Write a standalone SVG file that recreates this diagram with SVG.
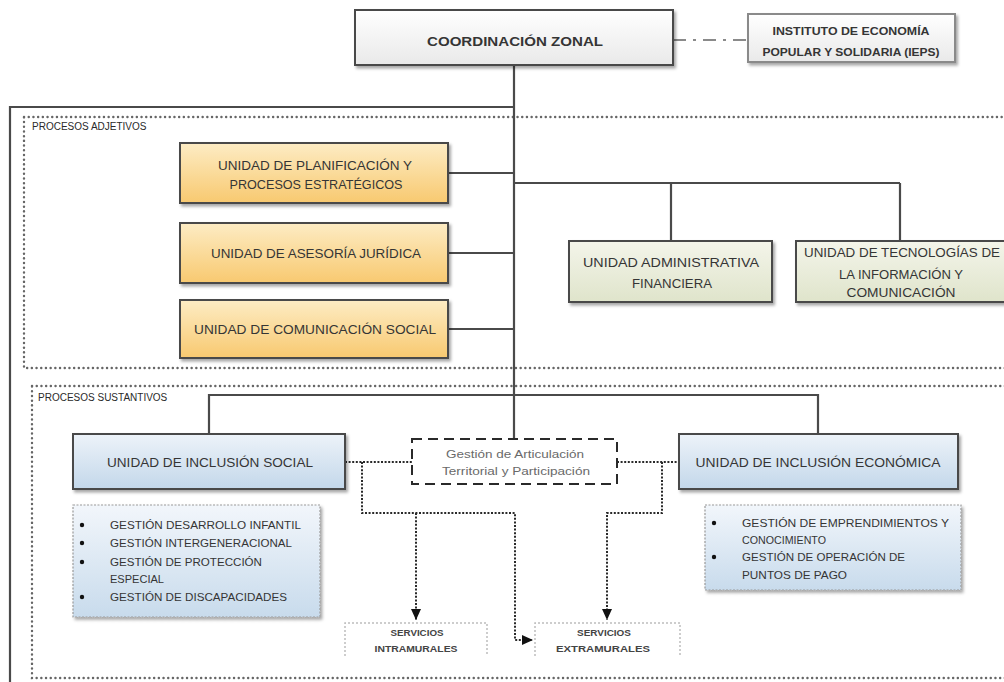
<svg xmlns="http://www.w3.org/2000/svg" width="1004" height="682" viewBox="0 0 1004 682">
<style>
  text { font-family: "Liberation Sans", Arial, sans-serif; fill: #353535; }
  .box { stroke: #4a4a4a; stroke-width: 2; }
  .lbl { font-size: 13.5px; text-anchor: middle; }
  .bold { font-weight: bold; }
  .sec { font-size: 10px; fill: #2a2a2a; }
  .li { font-size: 11px; }
  .srv { font-size: 9px; text-anchor: middle; font-weight: bold; fill: #444; }
  .solid { fill: none; stroke: #4a4a4a; stroke-width: 2.2; }
  .dots { fill: none; stroke: #2a2a2a; stroke-width: 2; stroke-dasharray: 2 1.6; }
  .frame { fill: none; stroke: #666; stroke-width: 2.4; stroke-dasharray: 0.1 4.6; stroke-linecap: round; }
  .srvbox { fill: none; stroke: #bdbdbd; stroke-width: 1.5; stroke-dasharray: 2 2; }
</style>
<defs>
  <linearGradient id="gW" x1="0" y1="0" x2="0" y2="1"><stop offset="0" stop-color="#ffffff"/><stop offset="1" stop-color="#e9e9e9"/></linearGradient>
  <linearGradient id="gO" x1="0" y1="0" x2="0" y2="1"><stop offset="0" stop-color="#fdecc4"/><stop offset="1" stop-color="#f8c970"/></linearGradient>
  <linearGradient id="gG" x1="0" y1="0" x2="0" y2="1"><stop offset="0" stop-color="#f4f5ea"/><stop offset="1" stop-color="#dfe4cb"/></linearGradient>
  <linearGradient id="gB" x1="0" y1="0" x2="0" y2="1"><stop offset="0" stop-color="#edf3f9"/><stop offset="1" stop-color="#c3d7ea"/></linearGradient>
  <linearGradient id="gL" x1="0" y1="0" x2="0" y2="1"><stop offset="0" stop-color="#f2f6fb"/><stop offset="1" stop-color="#c8dbec"/></linearGradient>
  <filter id="sh" x="-10%" y="-10%" width="125%" height="135%">
    <feDropShadow dx="2" dy="2.5" stdDeviation="1.5" flood-color="#000" flood-opacity="0.35"/>
  </filter>
  <marker id="arr" markerUnits="userSpaceOnUse" markerWidth="12" markerHeight="12" viewBox="0 0 12 12" refX="11" refY="6" orient="auto">
    <path d="M0 1 L11 6 L0 11 Z" fill="#111"/>
  </marker>
</defs>
<rect width="1004" height="682" fill="#ffffff"/>

<g id="frames">
  <rect class="frame" x="24" y="117" width="990" height="251"/>
  <text class="sec" x="32" y="130">PROCESOS ADJETIVOS</text>
  <rect class="frame" x="32" y="386" width="982" height="292"/>
  <text class="sec" x="38" y="401">PROCESOS SUSTANTIVOS</text>
</g>

<g id="connectors">
  <path class="solid" d="M10 682 V107 H514"/>
  <path class="solid" d="M514 65 V439"/>
  <path d="M673 40 H748" fill="none" stroke="#8a8a8a" stroke-width="2" stroke-dasharray="13 7 3 7"/>
  <path class="solid" d="M448 173 H514 M448 253 H514 M448 329 H514"/>
  <path class="solid" d="M514 183 H900 M671 183 V241 M900 183 V241"/>
  <path class="solid" d="M209 434 V395 H818 V434"/>
  <path class="dots" d="M345 462 H412 M617 462 H679"/>
  <path class="dots" d="M362 462 V513 H515 V640 H533" marker-end="url(#arr)"/>
  <path class="dots" d="M416 513 V620" marker-end="url(#arr)"/>
  <path class="dots" d="M662 462 V513 H607 V620" marker-end="url(#arr)"/>
</g>

<g id="coordinacion">
  <rect class="box" x="355" y="10" width="318" height="55" fill="url(#gW)" filter="url(#sh)"/>
  <text class="lbl bold" x="515" y="46" font-size="13.5" textLength="176" lengthAdjust="spacingAndGlyphs">COORDINACIÓN ZONAL</text>
</g>

<g id="ieps">
  <rect x="748" y="14" width="207" height="48" fill="url(#gW)" stroke="#8a8a8a" stroke-width="2" filter="url(#sh)"/>
  <text class="bold" x="851" y="35" font-size="11" text-anchor="middle" textLength="157" lengthAdjust="spacingAndGlyphs">INSTITUTO DE ECONOMÍA</text>
  <text class="bold" x="851" y="56" font-size="11" text-anchor="middle" textLength="177" lengthAdjust="spacingAndGlyphs">POPULAR Y SOLIDARIA (IEPS)</text>
</g>

<g id="planificacion">
  <rect class="box" x="180" y="143" width="268" height="60" fill="url(#gO)" filter="url(#sh)"/>
  <text class="lbl" x="315" y="170" textLength="194" lengthAdjust="spacingAndGlyphs">UNIDAD DE PLANIFICACIÓN Y</text>
  <text class="lbl" x="316" y="189" textLength="173" lengthAdjust="spacingAndGlyphs">PROCESOS ESTRATÉGICOS</text>
</g>

<g id="juridica">
  <rect class="box" x="180" y="223" width="268" height="60" fill="url(#gO)" filter="url(#sh)"/>
  <text class="lbl" x="316" y="258" textLength="210" lengthAdjust="spacingAndGlyphs">UNIDAD DE ASESORÍA JURÍDICA</text>
</g>

<g id="comunicacion">
  <rect class="box" x="180" y="300" width="268" height="58" fill="url(#gO)" filter="url(#sh)"/>
  <text class="lbl" x="315" y="334" textLength="242" lengthAdjust="spacingAndGlyphs">UNIDAD DE COMUNICACIÓN SOCIAL</text>
</g>

<g id="administrativa">
  <rect class="box" x="569" y="241" width="203" height="61" fill="url(#gG)" filter="url(#sh)"/>
  <text class="lbl" x="671" y="267" textLength="176" lengthAdjust="spacingAndGlyphs">UNIDAD ADMINISTRATIVA</text>
  <text class="lbl" x="672" y="288" textLength="80" lengthAdjust="spacingAndGlyphs">FINANCIERA</text>
</g>

<g id="tecnologias">
  <rect class="box" x="796" y="241" width="214" height="61" fill="url(#gG)" filter="url(#sh)"/>
  <text class="lbl" x="902" y="257" textLength="196" lengthAdjust="spacingAndGlyphs">UNIDAD DE TECNOLOGÍAS DE</text>
  <text class="lbl" x="901" y="279" textLength="124" lengthAdjust="spacingAndGlyphs">LA INFORMACIÓN Y</text>
  <text class="lbl" x="901" y="297" textLength="109" lengthAdjust="spacingAndGlyphs">COMUNICACIÓN</text>
</g>

<g id="inclusion-social">
  <rect class="box" x="73" y="434" width="272" height="55" fill="url(#gB)" filter="url(#sh)"/>
  <text class="lbl" x="210" y="467" textLength="206" lengthAdjust="spacingAndGlyphs">UNIDAD DE INCLUSIÓN SOCIAL</text>
</g>

<g id="articulacion">
  <rect x="412" y="439" width="205" height="45" fill="#ffffff" stroke="#2a2a2a" stroke-width="2" stroke-dasharray="10 6"/>
  <text x="515" y="458" font-size="11" text-anchor="middle" style="fill:#6a6a6a" textLength="138" lengthAdjust="spacingAndGlyphs">Gestión de Articulación</text>
  <text x="516" y="475" font-size="11" text-anchor="middle" style="fill:#6a6a6a" textLength="148" lengthAdjust="spacingAndGlyphs">Territorial y Participación</text>
</g>

<g id="inclusion-economica">
  <rect class="box" x="679" y="434" width="279" height="55" fill="url(#gB)" filter="url(#sh)"/>
  <text class="lbl" x="818" y="467" textLength="245" lengthAdjust="spacingAndGlyphs">UNIDAD DE INCLUSIÓN ECONÓMICA</text>
</g>

<g id="lista-social">
  <rect x="73" y="505" width="247" height="112" fill="url(#gL)" stroke="#9a9a9a" stroke-width="1.2" stroke-dasharray="2 1.5" filter="url(#sh)"/>
  <g fill="#111">
    <circle cx="82" cy="525" r="2.2"/>
    <circle cx="82" cy="543" r="2.2"/>
    <circle cx="82" cy="562" r="2.2"/>
    <circle cx="82" cy="597" r="2.2"/>
  </g>
  <text class="li" x="110" y="529" textLength="191" lengthAdjust="spacingAndGlyphs">GESTIÓN DESARROLLO INFANTIL</text>
  <text class="li" x="110" y="547" textLength="182" lengthAdjust="spacingAndGlyphs">GESTIÓN INTERGENERACIONAL</text>
  <text class="li" x="110" y="566" textLength="152" lengthAdjust="spacingAndGlyphs">GESTIÓN DE PROTECCIÓN</text>
  <text class="li" x="110" y="583" textLength="54" lengthAdjust="spacingAndGlyphs">ESPECIAL</text>
  <text class="li" x="110" y="601" textLength="177" lengthAdjust="spacingAndGlyphs">GESTIÓN DE DISCAPACIDADES</text>
</g>

<g id="lista-economica">
  <rect x="705" y="505" width="256" height="85" fill="url(#gL)" stroke="#9a9a9a" stroke-width="1.2" stroke-dasharray="2 1.5" filter="url(#sh)"/>
  <g fill="#111">
    <circle cx="714" cy="523" r="2.2"/>
    <circle cx="714" cy="557" r="2.2"/>
  </g>
  <text class="li" x="742" y="527" textLength="207" lengthAdjust="spacingAndGlyphs">GESTIÓN DE EMPRENDIMIENTOS Y</text>
  <text class="li" x="742" y="544" textLength="84" lengthAdjust="spacingAndGlyphs">CONOCIMIENTO</text>
  <text class="li" x="742" y="561" textLength="163" lengthAdjust="spacingAndGlyphs">GESTIÓN DE OPERACIÓN DE</text>
  <text class="li" x="742" y="579" textLength="105" lengthAdjust="spacingAndGlyphs">PUNTOS DE PAGO</text>
</g>

<g id="intramurales">
  <path class="srvbox" d="M345 656 V623 H487 V656"/>
  <text class="srv" x="417" y="636" textLength="53" lengthAdjust="spacingAndGlyphs">SERVICIOS</text>
  <text class="srv" x="416" y="652" textLength="83" lengthAdjust="spacingAndGlyphs">INTRAMURALES</text>
</g>

<g id="extramurales">
  <path class="srvbox" d="M535 656 V623 H680 V656"/>
  <text class="srv" x="604" y="636" textLength="54" lengthAdjust="spacingAndGlyphs">SERVICIOS</text>
  <text class="srv" x="603" y="652" textLength="94" lengthAdjust="spacingAndGlyphs">EXTRAMURALES</text>
</g>
</svg>
